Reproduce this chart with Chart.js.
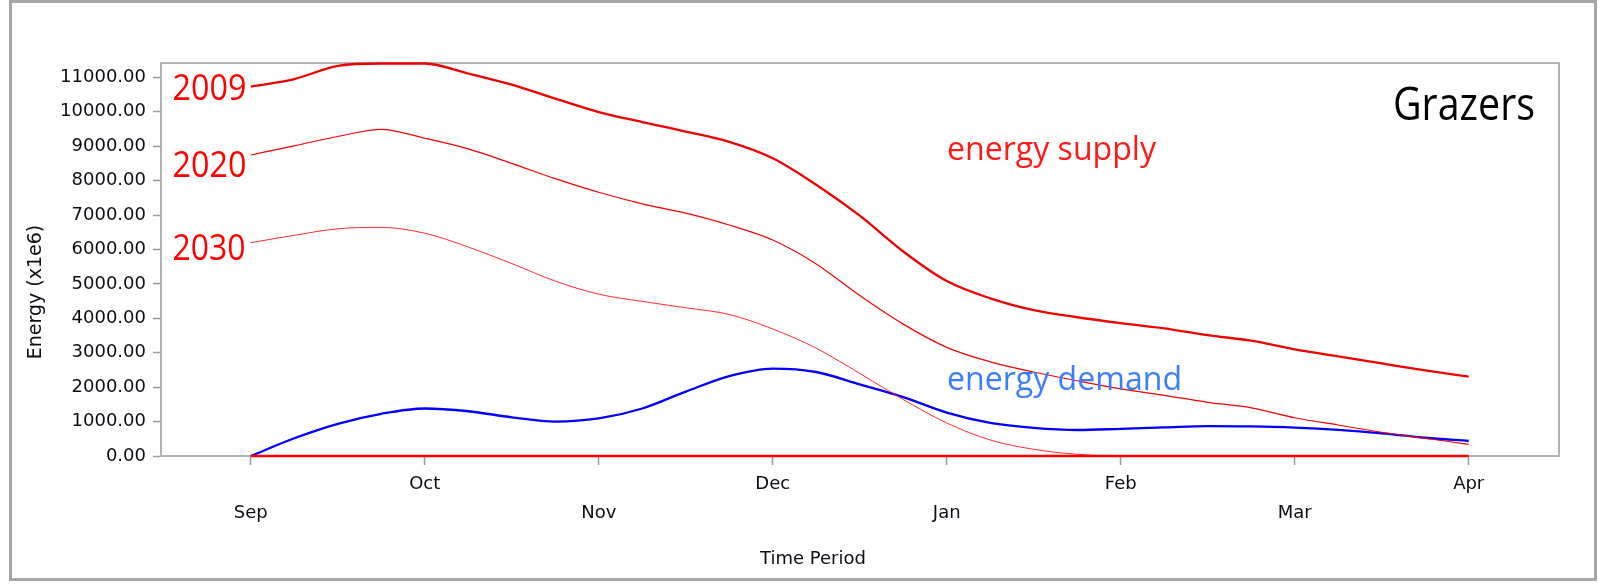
<!DOCTYPE html>
<html><head><meta charset="utf-8">
<script src="https://cdn.jsdelivr.net/npm/chart.js@4.4.1/dist/chart.umd.min.js"></script>
<style>html,body{margin:0;padding:0;background:#fff;overflow:hidden;} canvas{display:block;}</style>
</head><body>
<canvas id="c" width="1598" height="584"></canvas>
<script>
// ---- data ----
const monthLabels = ['Sep','Oct','Nov','Dec','Jan','Feb','Mar','Apr'];
const monthTicks = [0,1,2,3,4,5,6,7];
const yTicks = [0,1000,2000,3000,4000,5000,6000,7000,8000,9000,10000,11000];
const t = [0,0.25,0.5,0.75,1,1.25,1.5,1.75,2,2.25,2.5,2.75,3,3.25,3.5,3.75,4,4.25,4.5,4.75,5,5.25,5.5,5.75,6,6.25,6.5,6.75,7];
const supply2009 = [10730,10950,11330,11400,11400,11110,10785,10380,9990,9700,9425,9125,8650,7880,6980,5940,5080,4580,4238,4030,3860,3710,3510,3350,3100,2895,2690,2485,2303];
const supply2020 = [8742,9010,9280,9489,9230,8920,8500,8055,7660,7325,7055,6710,6275,5580,4660,3830,3155,2735,2440,2185,1950,1760,1560,1400,1110,900,690,515,340];
const supply2030 = [6195,6410,6600,6640,6470,6070,5590,5080,4700,4490,4305,4110,3690,3130,2400,1640,960,465,195,50,0,0,0,0,0,0,0,0,0];
const demand = [0,515,935,1225,1380,1300,1125,1000,1090,1380,1870,2320,2540,2440,2080,1710,1260,960,815,755,790,830,870,860,825,760,660,530,436];
const baseline = [0,0,0,0,0,0,0,0,0,0,0,0,0,0,0,0,0,0,0,0,0,0,0,0,0,0,0,0,0];

const pts = arr => arr.map((v,i)=>({x:t[i], y:v}));

const annotFont = "'Open Sans', 'Noto Sans', sans-serif";
const axisFont = "'DejaVu Sans', sans-serif";
const textColor = '#0c0c14';

function fitText(ctx, text, x, base, size, targetW, color){
  ctx.save();
  ctx.font = size + 'px ' + annotFont;
  const w = ctx.measureText(text).width;
  ctx.translate(x, base);
  ctx.scale(targetW / w, 1);
  ctx.fillStyle = color;
  ctx.textAlign = 'left';
  ctx.textBaseline = 'alphabetic';
  ctx.fillText(text, 0, 0);
  ctx.restore();
}

const decor = {
  id: 'decor',
  beforeDraw(chart){
    const ctx = chart.ctx;
    ctx.save();
    ctx.fillStyle = '#ffffff';
    ctx.fillRect(0,0,chart.width,chart.height);
    ctx.restore();
  },
  beforeDatasetsDraw(chart){
    const ctx = chart.ctx, a = chart.chartArea;
    ctx.save();
    ctx.strokeStyle = '#b2b2b2';
    ctx.lineWidth = 2;
    ctx.strokeRect(a.left, a.top, a.right - a.left, a.bottom - a.top);
    ctx.restore();
  },
  afterDraw(chart){
    const ctx = chart.ctx;
    // outer frame
    ctx.save();
    ctx.strokeStyle = '#a6a6a6';
    ctx.lineWidth = 3;
    ctx.strokeRect(10.5, 1.5, 1585, 578);
    ctx.restore();
    // axis titles
    ctx.save();
    ctx.fillStyle = textColor;
    ctx.font = '18px ' + axisFont;
    ctx.textAlign = 'center';
    ctx.textBaseline = 'middle';
    ctx.fillText('Time Period', 813, 559);
    ctx.translate(36, 292);
    ctx.rotate(-Math.PI/2);
    ctx.font = '19px ' + axisFont;
    ctx.fillText('Energy (x1e6)', 0, 0);
    ctx.restore();
    // annotations
    fitText(ctx, '2009', 172.5, 100, 36, 74, '#ff0000');
    fitText(ctx, '2020', 172.5, 176.5, 36, 74, '#ff0000');
    fitText(ctx, '2030', 172.5, 260, 36, 73, '#ff0000');
    fitText(ctx, 'Grazers', 1393, 120, 46, 142, '#000000');
    fitText(ctx, 'energy supply', 947, 160, 32, 209, '#ff1a1a');
    fitText(ctx, 'energy demand', 947, 390, 33, 235, '#3d7dfb');
  }
};

const ds = (data, color, width) => ({
  data: pts(data), borderColor: color, borderWidth: width, pointRadius: 0,
  fill: false, cubicInterpolationMode: 'monotone', clip: 2
});

new Chart(document.getElementById('c'), {
  type: 'line',
  data: { datasets: [
    ds(baseline, '#ff0000', 2.5),
    ds(supply2030, 'rgba(255,20,20,0.9)', 1),
    ds(supply2020, '#f20000', 1.2),
    ds(supply2009, '#ec0000', 2.3),
    ds(demand, '#0000ff', 2.3)
  ]},
  options: {
    responsive: false, animation: false, devicePixelRatio: 1,
    layout: { padding: { left: 0, top: 63, right: 39, bottom: 0 } },
    plugins: { legend: { display: false }, tooltip: { enabled: false } },
    scales: {
      x: {
        type: 'linear', min: -0.516, max: 7.519,
        afterFit: s => { s.height = 128; },
        afterBuildTicks: s => { s.ticks = monthTicks.map(v => ({value: v})); },
        grid: { drawOnChartArea: false, drawTicks: true, tickLength: 9, tickColor: '#9a9a9a', tickWidth: 1.5 },
        border: { display: false },
        ticks: {
          autoSkip: false, maxRotation: 0, padding: 5, color: textColor,
          font: { family: axisFont, size: 18, lineHeight: 29/18 },
          callback: v => { const i = monthTicks.indexOf(v); return i % 2 === 0 ? ['', monthLabels[i]] : [monthLabels[i], '']; }
        }
      },
      y: {
        min: 0, max: 11415,
        afterFit: s => { s.width = 161; },
        afterBuildTicks: s => { s.ticks = yTicks.map(v => ({value: v})); },
        grid: { drawOnChartArea: false, drawTicks: true, tickLength: 8, tickColor: '#9a9a9a', tickWidth: 1.5 },
        border: { display: false },
        ticks: {
          padding: 7, color: textColor,
          font: { family: axisFont, size: 18 },
          callback: v => v.toFixed(2)
        }
      }
    }
  },
  plugins: [decor]
});
</script>
</body></html>
